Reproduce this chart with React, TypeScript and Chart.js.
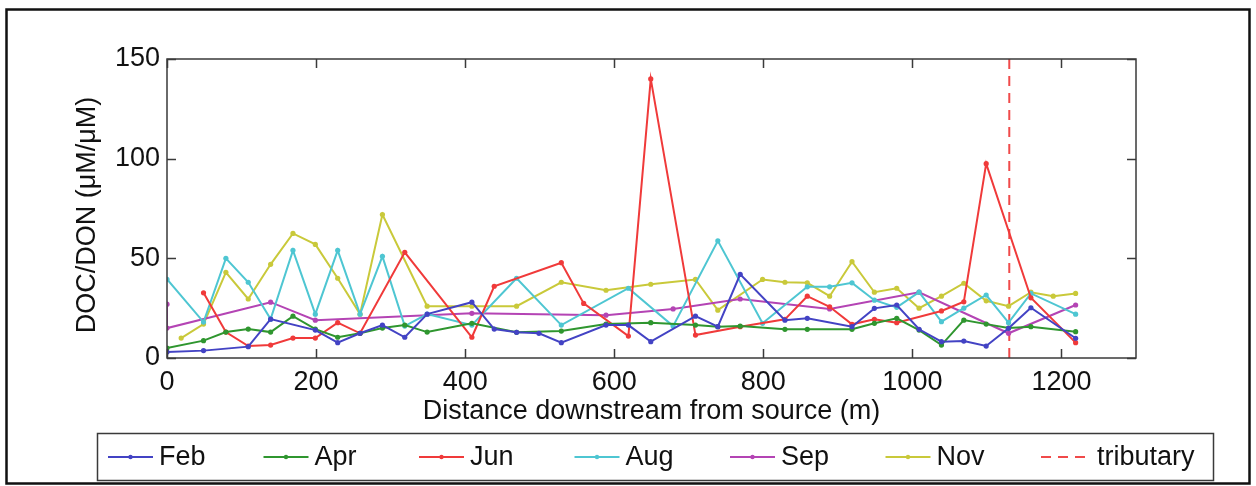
import { useEffect, useRef } from "react";
import { Chart, registerables } from "chart.js";

Chart.register(...registerables);

// ---- Data ----
const febX = [0, 49, 109, 139, 199, 229, 259, 289, 319, 349, 409, 439, 469, 499, 529, 589, 619, 649, 709, 739, 769, 829, 859, 919, 949, 979, 1009, 1039, 1069, 1099, 1129, 1159, 1219];
const febY = [3, 3.7, 5.7, 19.5, 14, 7.7, 12.4, 16.5, 10.4, 22, 28, 14.5, 12.9, 12.4, 7.7, 16.5, 16.5, 8.2, 21, 15.7, 42, 19, 19.9, 15.7, 24.9, 26.6, 14.4, 8.2, 8.5, 6, 14.9, 25.2, 9.9];

const aprX = [0, 49, 79, 109, 139, 169, 199, 229, 259, 289, 319, 349, 409, 469, 529, 589, 649, 709, 739, 769, 829, 859, 919, 949, 979, 1009, 1039, 1069, 1099, 1129, 1159, 1219];
const aprY = [5, 8.7, 13, 14.5, 13, 21, 14.5, 10.4, 12.4, 15, 16.5, 13, 17.4, 12.9, 13.5, 17, 17.7, 16.5, 15.7, 16, 14.4, 14.4, 14.4, 17.4, 19.9, 14, 6.5, 19, 17, 15, 15.7, 13.2];

const junX = [49, 79, 109, 139, 169, 199, 229, 259, 319, 409, 439, 529, 559, 619, 649, 709, 769, 829, 859, 889, 919, 949, 979, 1039, 1069, 1099, 1159, 1219];
const junY = [32.7, 13, 6, 6.5, 10, 10, 17.7, 12.4, 53, 10.4, 36, 47.8, 27.4, 11, 140, 11.5, 15.7, 19.4, 31, 25.7, 16.9, 19.4, 17.7, 23.6, 28.2, 97.5, 30.2, 7.7];

const augX = [0, 49, 79, 109, 139, 169, 199, 229, 259, 289, 319, 349, 409, 469, 529, 619, 679, 739, 799, 859, 889, 919, 949, 979, 1009, 1039, 1069, 1099, 1129, 1159, 1219];
const augY = [39.5, 18, 50, 38, 19.5, 54, 22, 54, 22, 51, 16, 22, 16.5, 40, 16.5, 35, 16, 58.8, 17.4, 35.7, 35.7, 37.7, 29, 25.4, 33, 18.2, 25, 31.6, 17.7, 32.4, 22];

const sepX = [0, 0, 139, 199, 409, 589, 679, 769, 889, 1009, 1129, 1219];
const sepY = [27, 15, 28, 19, 22.4, 21.5, 24.6, 29.6, 24.6, 33, 12.4, 26.6];

const novX = [19, 49, 79, 109, 139, 169, 199, 229, 259, 289, 349, 409, 469, 529, 589, 649, 709, 739, 799, 829, 859, 889, 919, 949, 979, 1009, 1039, 1069, 1099, 1129, 1159, 1189, 1219];
const novY = [10, 17, 43, 29.6, 47, 62.5, 57, 40, 22, 72, 26, 26, 26, 38, 34, 37, 39.4, 24, 39.4, 38, 37.7, 31, 48.3, 33, 35, 25, 31, 37.5, 28.7, 26, 33, 31, 32.4];

const tributaryX = 1130;

const seriesLabels = ["Feb", "Apr", "Jun", "Aug", "Sep", "Nov"];
const seriesXs = [febX, aprX, junX, augX, sepX, novX];
const seriesYs = [febY, aprY, junY, augY, sepY, novY];
const tributaryLabel = "tributary";

const xMin = 0;
const xMax = 1300;
const xStep = 200;
const yMin = 0;
const yMax = 150;
const yStep = 50;

const xTitle = "Distance downstream from source (m)";
const yTitle = "DOC/DON (\u03bcM/\u03bcM)";

// ---- Styles ----
const seriesColors = ["#4343c4", "#2f962f", "#f03a3a", "#4ec6d2", "#b444b4", "#c9c93a"];
const tributaryColor = "#f04a4a";
const FONT = "'Liberation Sans', Arial, Helvetica, sans-serif";
const FS = 27;

const framePlugin = {
  id: "matlabFrame",
  afterDraw(chart: any) {
    const { ctx, chartArea: a, scales } = chart;
    ctx.save();
    // axes box
    ctx.strokeStyle = "#3a3a3a";
    ctx.lineWidth = 1.5;
    ctx.setLineDash([]);
    ctx.strokeRect(a.left, a.top, a.right - a.left, a.bottom - a.top);
    const tl = 9;
    ctx.beginPath();
    scales.x.ticks.forEach((t: any) => {
      const px = Math.round(scales.x.getPixelForValue(t.value)) + 0.5;
      ctx.moveTo(px, a.bottom);
      ctx.lineTo(px, a.bottom - tl);
      ctx.moveTo(px, a.top);
      ctx.lineTo(px, a.top + tl);
    });
    scales.y.ticks.forEach((t: any) => {
      const py = Math.round(scales.y.getPixelForValue(t.value)) + 0.5;
      ctx.moveTo(a.left, py);
      ctx.lineTo(a.left + tl, py);
      ctx.moveTo(a.right, py);
      ctx.lineTo(a.right - tl, py);
    });
    ctx.stroke();

    // y-axis title
    ctx.save();
    ctx.translate(88, 215);
    ctx.rotate(-Math.PI / 2);
    ctx.font = `${FS}px ${FONT}`;
    ctx.fillStyle = "#111";
    ctx.textAlign = "center";
    ctx.textBaseline = "middle";
    ctx.fillText(yTitle, 0, 0);
    ctx.restore();

    // legend
    const lx0 = 97.5, ly0 = 433.5, lw = 1116, lh = 47;
    ctx.fillStyle = "#ffffff";
    ctx.fillRect(lx0, ly0, lw, lh);
    ctx.strokeStyle = "#3a3a3a";
    ctx.lineWidth = 1.5;
    ctx.strokeRect(lx0, ly0, lw, lh);
    const cy = ly0 + lh / 2;
    ctx.font = `${FS}px ${FONT}`;
    ctx.textBaseline = "middle";
    ctx.textAlign = "left";
    chart.data.datasets.forEach((ds: any, i: number) => {
      const sx = 108 + i * 155.5;
      const len = ds.borderDash && ds.borderDash.length ? 50 : 45;
      ctx.strokeStyle = ds.borderColor;
      ctx.lineWidth = 2;
      ctx.setLineDash(ds.borderDash || []);
      ctx.beginPath();
      ctx.moveTo(sx, cy);
      ctx.lineTo(sx + len, cy);
      ctx.stroke();
      ctx.setLineDash([]);
      if (ds.pointRadius > 0) {
        ctx.fillStyle = ds.borderColor;
        ctx.beginPath();
        ctx.arc(sx + len / 2, cy, 2.2, 0, Math.PI * 2);
        ctx.fill();
      }
      ctx.fillStyle = "#111";
      ctx.fillText(ds.label, sx + len + 6, cy + 1);
    });

    // outer figure frame
    ctx.strokeStyle = "#111";
    ctx.lineWidth = 2.5;
    ctx.strokeRect(6.5, 9.5, 1243, 474);
    ctx.restore();
  },
};

export default function App() {
  const ref = useRef<HTMLCanvasElement | null>(null);

  useEffect(() => {
    document.body.style.margin = "0";
    const canvas = ref.current;
    if (!canvas) return;

    const datasets: any[] = seriesLabels.map((label, i) => ({
      label,
      data: seriesXs[i].map((x, j) => ({ x, y: seriesYs[i][j] })),
      borderColor: seriesColors[i],
      backgroundColor: seriesColors[i],
      borderWidth: 2,
      pointRadius: 2.6,
      pointHoverRadius: 2.6,
      pointBorderWidth: 0,
      pointBackgroundColor: seriesColors[i],
      tension: 0,
      fill: false,
    }));
    datasets.push({
      label: tributaryLabel,
      data: [
        { x: tributaryX, y: yMin },
        { x: tributaryX, y: yMax },
      ],
      borderColor: tributaryColor,
      backgroundColor: tributaryColor,
      borderWidth: 2,
      borderDash: [10, 7],
      pointRadius: 0,
      fill: false,
    });

    const chart = new Chart(canvas, {
      type: "line",
      data: { datasets },
      options: {
        responsive: false,
        animation: false,
        devicePixelRatio: 1,
        layout: { padding: { left: 72, top: 59, right: 120, bottom: 58 } },
        plugins: {
          legend: { display: false },
          tooltip: { enabled: false },
        },
        scales: {
          x: {
            type: "linear",
            min: xMin,
            max: xMax,
            grid: { display: false, drawTicks: false },
            border: { display: false },
            ticks: {
              stepSize: xStep,
              includeBounds: false,
              padding: 8,
              color: "#111",
              maxRotation: 0,
              font: { family: FONT, size: FS },
              callback: (v: any) => String(v),
            },
            title: {
              display: true,
              text: xTitle,
              color: "#111",
              padding: { top: 0, bottom: 0 },
              font: { family: FONT, size: FS },
            },
            afterFit: (s: any) => {
              s.height = 70;
            },
          },
          y: {
            type: "linear",
            min: yMin,
            max: yMax,
            grid: { display: false, drawTicks: false },
            border: { display: false },
            ticks: {
              stepSize: yStep,
              padding: 7,
              color: "#111",
              font: { family: FONT, size: FS },
              callback: (v: any) => String(v),
            },
            title: { display: false },
            afterFit: (s: any) => {
              s.width = 95;
            },
          },
        },
      },
      plugins: [framePlugin],
    });

    return () => chart.destroy();
  }, []);

  return (
    <div style={{ width: 1256, height: 486, background: "#fff" }}>
      <canvas ref={ref} width={1256} height={486} style={{ display: "block" }} />
    </div>
  );
}
